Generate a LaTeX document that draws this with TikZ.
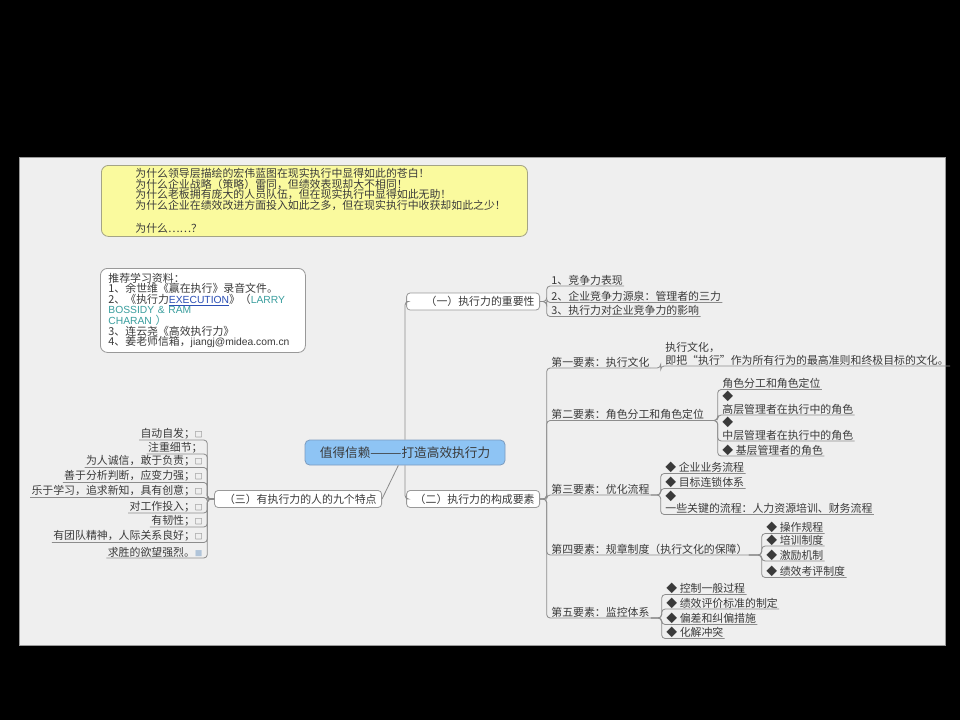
\documentclass[tikz,border=0pt]{standalone}
\usepackage{fontspec}
\setmainfont{Noto Sans CJK SC}
\newfontfamily\latfont{Liberation Sans}

\definecolor{panelgray}{HTML}{EFEFEF}
\definecolor{paneledge}{HTML}{9A9A9A}
\definecolor{notefill}{HTML}{FAFA9E}
\definecolor{noteedge}{HTML}{A4A486}
\definecolor{boxgray}{HTML}{999999}
\definecolor{rootfill}{HTML}{8EC4F4}
\definecolor{rootedge}{HTML}{7C9CC0}
\definecolor{linegray}{HTML}{8C8C8C}
\definecolor{textgray}{HTML}{3A3A3A}
\definecolor{linkblue}{HTML}{2B4FB5}
\definecolor{refteal}{HTML}{3A9E9E}

\newcommand\mmfont{\fontsize{9.3}{10.5}\selectfont}
\newcommand\tickbox{{\fontsize{6.5}{6.5}\selectfont □}}

\tikzset{
  link/.style={draw=linegray, line width=0.7pt, rounded corners=3pt},
  note/.style={rounded corners=6pt, line width=0.7pt, align=left, text=textgray,
    inner ysep=0pt},
  rootbox/.style={draw=rootedge, fill=rootfill, rounded corners=4pt, line width=0.7pt,
    minimum width=6cm, minimum height=0.75cm, text=textgray,
    font=\fontsize{10.8}{12}\selectfont},
  branch/.style={draw=boxgray, fill=white, rounded corners=3pt, line width=0.7pt,
    inner xsep=0.15cm, inner ysep=0pt, minimum height=0.51cm, align=right,
    anchor=east, text=textgray, font=\mmfont},
  topic/.style={anchor=south west, inner xsep=1pt, inner ysep=0.5pt, align=left,
    text=textgray, font=\mmfont},
  ltopic/.style={anchor=south east, inner xsep=1pt, inner ysep=0.5pt,
    text=textgray, font=\mmfont},
}

\begin{document}
\begin{tikzpicture}[x=0.03cm,y=-0.03cm]

  % slide and sheet
  \fill[black] (0,0) rectangle (960,720);
  \filldraw[fill=panelgray, draw=paneledge, line width=0.6pt] (19,157) rectangle (945,645);

  % notes
  \node[note, fill=notefill, draw=noteedge, anchor=north west, text width=10.74cm,
    inner xsep=1.02cm, minimum height=2.13cm, font=\fontsize{9.3}{9}\selectfont] (why) at (101,165)
    {为什么领导层描绘的宏伟蓝图在现实执行中显得如此的苍白！\\
     为什么企业战略（策略）雷同，但绩效表现却大不相同！\\
     为什么老板拥有庞大的人员队伍，但在现实执行中显得如此无助！\\
     为什么企业在绩效改进方面投入如此之多，但在现实执行中收获却如此之少！\\[10.5pt]
     为什么……？};

  \node[note, fill=white, draw=boxgray, anchor=north west, text width=5.67cm,
    inner xsep=0.24cm, minimum height=2.52cm, font=\fontsize{9.3}{9}\selectfont] (refs) at (100,268)
    {推荐学习资料：\\
     1、余世维《赢在执行》录音文件。\\
     2、《执行力{\latfont\fontsize{8.8}{9}\selectfont\color{linkblue}\underline{EXECUTION}}》（{\latfont\fontsize{8.8}{9}\selectfont\color{refteal}LARRY}\\
     {\latfont\fontsize{8.8}{9}\selectfont\color{refteal}BOSSIDY \& RAM}\\
     {\latfont\fontsize{8.8}{9}\selectfont\color{refteal}CHARAN }{\color{refteal}）}\\
     3、连云尧《高效执行力》\\
     4、姜老师信箱，{\latfont\fontsize{8.8}{9}\selectfont jiangj@midea.com.cn}};

  % central topic and main branches
  \node[rootbox] (root) at (405,452.5) {值得信赖———打造高效执行力};
  \node[branch, text width=3.69cm] (one) at (540,301.5) {（一）执行力的重要性};
  \node[branch, text width=3.69cm] (two) at (540,499) {（二）执行力的构成要素};
  \node[branch, text width=4.71cm] (three) at (382,499) {（三）有执行力的人的九个特点};

  % (一)
  \node[topic] (i1) at (550,286) {1、竞争力表现};
  \node[topic] (i2) at (550,302.5) {2、企业竞争力源泉：管理者的三力};
  \node[topic] (i3) at (550,316.5) {3、执行力对企业竞争力的影响};

  % (二)
  \node[topic] (e1) at (550,368) {第一要素：执行文化};
  \node[topic] (e2) at (550,420.5) {第二要素：角色分工和角色定位};
  \node[topic] (e3) at (550,495) {第三要素：优化流程};
  \node[topic] (e4) at (550,555) {第四要素：规章制度（执行文化的保障）};
  \node[topic] (e5) at (550,618) {第五要素：监控体系};

  \node[topic] (e1a) at (664,366) {执行文化，\\即把“执行”作为所有行为的最高准则和终极目标的文化。};

  \node[topic] (e2a) at (721,389.5) {角色分工和角色定位};
  \node[topic] (e2b) at (721,415) {◆\\高层管理者在执行中的角色};
  \node[topic] (e2c) at (721,441) {◆\\中层管理者在执行中的角色};
  \node[topic] (e2d) at (721,456) {◆ 基层管理者的角色};

  \node[topic] (e3a) at (664,473.5) {◆ 企业业务流程};
  \node[topic] (e3b) at (664,488.5) {◆ 目标连锁体系};
  \node[topic] (e3c) at (664,514.5) {◆\\一些关键的流程：人力资源培训、财务流程};

  \node[topic] (e4a) at (765,533.5) {◆ 操作规程};
  \node[topic] (e4b) at (765,546) {◆ 培训制度};
  \node[topic] (e4c) at (765,561) {◆ 激励机制};
  \node[topic] (e4d) at (765,577.5) {◆ 绩效考评制度};

  \node[topic] (e5a) at (665,594.5) {◆ 控制一般过程};
  \node[topic] (e5b) at (665,609) {◆ 绩效评价标准的制定};
  \node[topic] (e5c) at (665,624.5) {◆ 偏差和纠偏措施};
  \node[topic] (e5d) at (665,638.5) {◆ 化解冲突};

  % (三)
  \node[ltopic] (l1) at (204,440) {自动自发；\tickbox};
  \node[ltopic] (l2) at (204,454) {注重细节；};
  \node[ltopic] (l3) at (204,467.5) {为人诚信，敢于负责；\tickbox};
  \node[ltopic] (l4) at (204,482.5) {善于分析判断，应变力强；\tickbox};
  \node[ltopic] (l5) at (204,497.5) {乐于学习，追求新知，具有创意；\tickbox};
  \node[ltopic] (l6) at (204,513) {对工作投入；\tickbox};
  \node[ltopic] (l7) at (204,527) {有韧性；\tickbox};
  \node[ltopic] (l8) at (204,542.5) {有团队精神，人际关系良好；\tickbox};
  \node[ltopic] (l9) at (204,558) {求胜的欲望强烈。{\fontsize{6.5}{6.5}\selectfont\color{rootedge!60}■}};

  % connectors
  \draw[link] (root.north) |- (one.west);
  \draw[link] (root.south) |- (two.west);
  \draw[link] ([xshift=-0.2cm]root.south) -- (three.east);

  \foreach \c in {i1,i2,i3}
    \draw[link] (one.east) -| ([xshift=-0.1cm]\c.south west) -- (\c.south east);
  \foreach \c in {e1,e2,e3,e4,e5}
    \draw[link] (two.east) -| ([xshift=-0.1cm]\c.south west) -- (\c.south east);
  \draw[link] (e1.south east) -| ([xshift=-0.1cm]e1a.south west) -- (e1a.south east);
  \foreach \c in {e2a,e2b,e2c,e2d}
    \draw[link] (e2.south east) -| ([xshift=-0.1cm]\c.south west) -- (\c.south east);
  \foreach \c in {e3a,e3b,e3c}
    \draw[link] (e3.south east) -| ([xshift=-0.1cm]\c.south west) -- (\c.south east);
  \foreach \c in {e4a,e4b,e4c,e4d}
    \draw[link] (e4.south east) -| ([xshift=-0.1cm]\c.south west) -- (\c.south east);
  \foreach \c in {e5a,e5b,e5c,e5d}
    \draw[link] (e5.south east) -| ([xshift=-0.1cm]\c.south west) -- (\c.south east);
  \foreach \c in {l1,l2,l3,l4,l5,l6,l7,l8,l9}
    \draw[link] (three.west) -| ([xshift=0.1cm]\c.south east) -- (\c.south west);

\end{tikzpicture}
\end{document}
